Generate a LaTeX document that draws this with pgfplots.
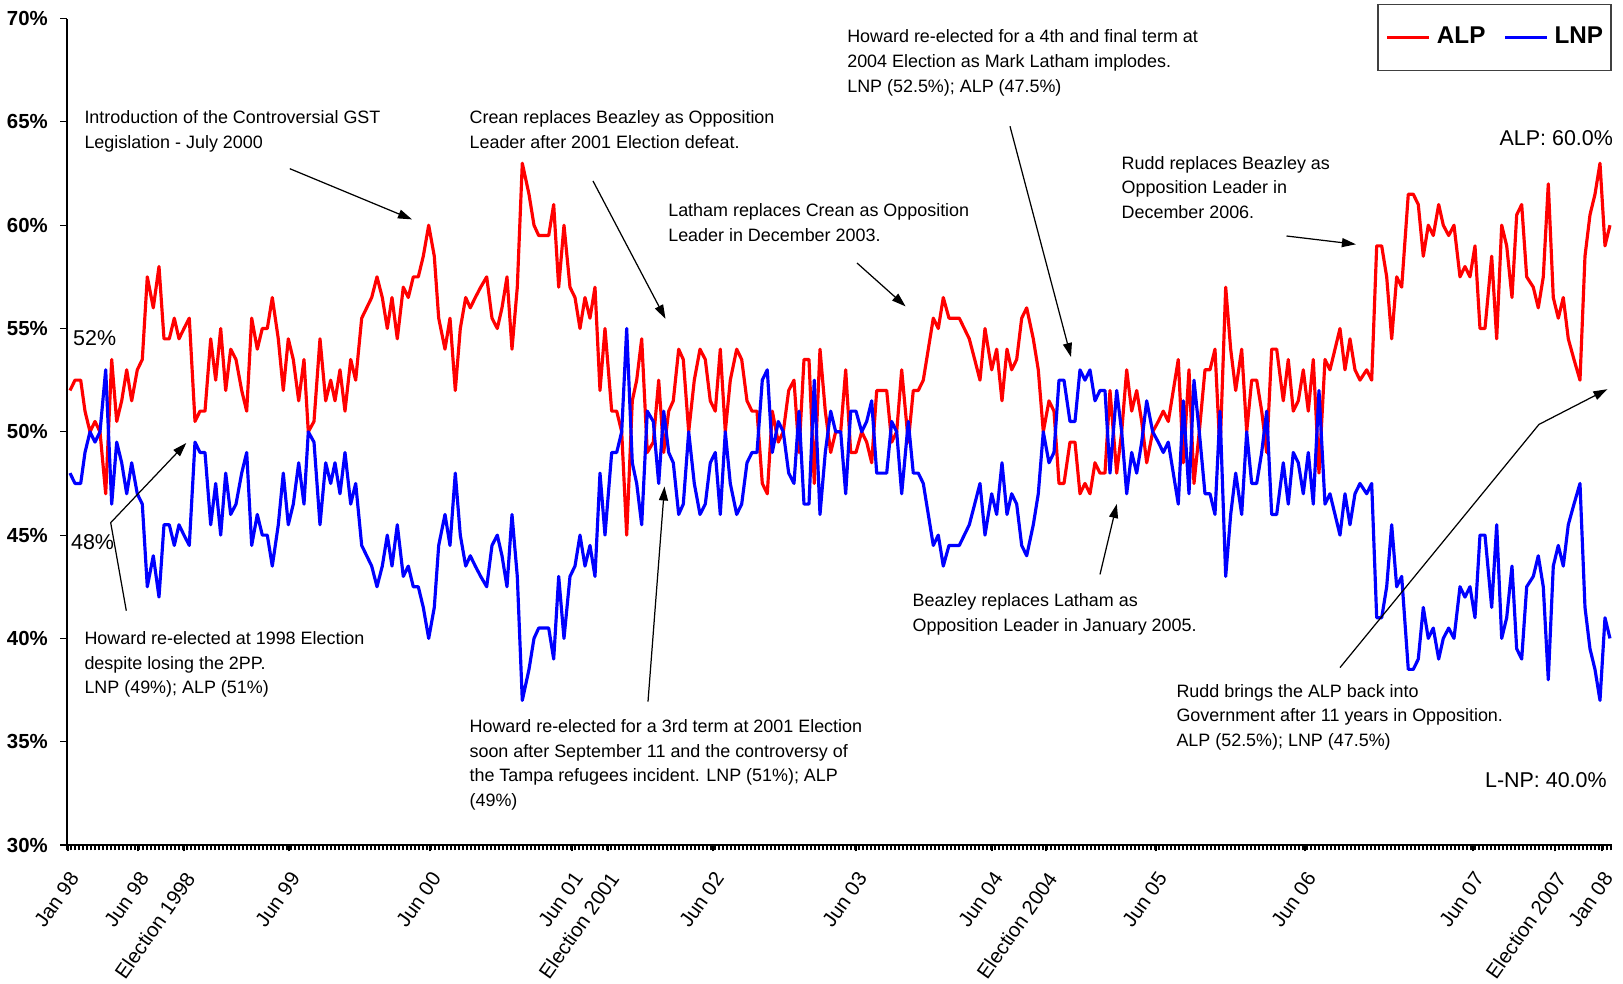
\documentclass[border=0pt]{standalone}
\usepackage{pgfplots}
\pgfplotsset{compat=1.18}
\usepackage{pgfplotstable}
\usepackage{fontspec}
\setmainfont{Liberation Sans}
\usetikzlibrary{arrows.meta}

\pgfplotstableread{
x alp lnp
70 52.0 48.0
75 52.5 47.5
80.7 52.5 47.5
85 51.0 49.0
90 50.0 50.0
95 50.5 49.5
100 50.0 50.0
105.7 47.0 53.0
111.7 53.5 46.5
116.7 50.5 49.5
121.7 51.5 48.5
126.7 53.0 47.0
131.7 51.5 48.5
137.3 53.0 47.0
142.3 53.5 46.5
147.3 57.5 42.5
153.3 56.0 44.0
159 58.0 42.0
164 54.5 45.5
169.3 54.5 45.5
174.3 55.5 44.5
179 54.5 45.5
184 55.0 45.0
189.3 55.5 44.5
195 50.5 49.5
200 51.0 49.0
205 51.0 49.0
210.7 54.5 45.5
215.7 52.5 47.5
220.7 55.0 45.0
225.7 52.0 48.0
230.7 54.0 46.0
236 53.5 46.5
241.7 52.0 48.0
246.7 51.0 49.0
251.7 55.5 44.5
257.3 54.0 46.0
262.3 55.0 45.0
267.3 55.0 45.0
272.3 56.5 43.5
278.3 54.5 45.5
283.3 52.0 48.0
288.3 54.5 45.5
293.3 53.5 46.5
298.7 51.5 48.5
304 53.5 46.5
308.3 50.0 50.0
314 50.5 49.5
320 54.5 45.5
325.7 51.5 48.5
330.7 52.5 47.5
335 51.5 48.5
340 53.0 47.0
345 51.0 49.0
350.7 53.5 46.5
355.7 52.5 47.5
361.7 55.5 44.5
366.7 56.0 44.0
371.7 56.5 43.5
377 57.5 42.5
382.3 56.5 43.5
387.3 55.0 45.0
392 56.5 43.5
397.3 54.5 45.5
403.3 57.0 43.0
408.3 56.5 43.5
413.3 57.5 42.5
418.3 57.5 42.5
423.3 58.5 41.5
428.7 60.0 40.0
434.3 58.5 41.5
438.7 55.5 44.5
445 54.0 46.0
450 55.5 44.5
455.3 52.0 48.0
460.3 55.0 45.0
465.7 56.5 43.5
470.3 56.0 44.0
475.3 56.5 43.5
480.7 57.0 43.0
486.7 57.5 42.5
492 55.5 44.5
497.3 55.0 45.0
502 56.0 44.0
507 57.5 42.5
512 54.0 46.0
517.3 57.0 43.0
522.3 63.0 37.0
529 61.5 38.5
534 60.0 40.0
538.7 59.5 40.5
543.7 59.5 40.5
548.7 59.5 40.5
553.7 61.0 39.0
558.7 57.0 43.0
564 60.0 40.0
570 57.0 43.0
575 56.5 43.5
580 55.0 45.0
585 56.5 43.5
590 55.5 44.5
595 57.0 43.0
600 52.0 48.0
605 55.0 45.0
611.7 51.0 49.0
616.7 51.0 49.0
621.7 50.0 50.0
626.7 45.0 55.0
632.3 51.5 48.5
636.7 52.5 47.5
641.7 54.5 45.5
647.3 49.0 51.0
653.3 49.5 50.5
658.7 52.5 47.5
663.7 49.0 51.0
668.7 51.0 49.0
673.3 51.5 48.5
678.7 54.0 46.0
683.3 53.5 46.5
688.7 50.0 50.0
694.3 52.5 47.5
700 54.0 46.0
705.3 53.5 46.5
710.3 51.5 48.5
715.3 51.0 49.0
720.3 54.0 46.0
725.3 50.0 50.0
730.3 52.5 47.5
736.7 54.0 46.0
741.7 53.5 46.5
747 51.5 48.5
752 51.0 49.0
757 51.0 49.0
762.3 47.5 52.5
767.3 47.0 53.0
772.3 51.0 49.0
778.3 49.5 50.5
783.3 50.0 50.0
788.7 52.0 48.0
794 52.5 47.5
799 49.0 51.0
804 53.5 46.5
809 53.5 46.5
814.3 47.5 52.5
820 54.0 46.0
825.3 51.0 49.0
830.7 49.0 51.0
835.7 50.0 50.0
840.7 50.0 50.0
845.7 53.0 47.0
850.7 49.0 51.0
856 49.0 51.0
861.7 50.0 50.0
866.7 49.5 50.5
871.7 48.5 51.5
876.7 52.0 48.0
881.7 52.0 48.0
886.7 52.0 48.0
891.7 49.5 50.5
896.7 50.0 50.0
901.7 53.0 47.0
908.3 49.5 50.5
913.3 52.0 48.0
918.3 52.0 48.0
923.3 52.5 47.5
928.3 54.0 46.0
933.3 55.5 44.5
938.3 55.0 45.0
943.3 56.5 43.5
949 55.5 44.5
954 55.5 44.5
959.3 55.5 44.5
964.3 55.0 45.0
969.3 54.5 45.5
974.7 53.5 46.5
980 52.5 47.5
985 55.0 45.0
991.7 53.0 47.0
996.7 54.0 46.0
1002 51.5 48.5
1007 54.0 46.0
1011.7 53.0 47.0
1016.7 53.5 46.5
1021.7 55.5 44.5
1026.7 56.0 44.0
1033.3 54.5 45.5
1038.3 53.0 47.0
1043.3 50.0 50.0
1049 51.5 48.5
1054 51.0 49.0
1059 47.5 52.5
1064 47.5 52.5
1070 49.5 50.5
1075 49.5 50.5
1080 47.0 53.0
1085 47.5 52.5
1090 47.0 53.0
1095 48.5 51.5
1100 48.0 52.0
1105 48.0 52.0
1110 52.0 48.0
1116.7 48.0 52.0
1121.7 50.0 50.0
1126.7 53.0 47.0
1131.7 51.0 49.0
1136.7 52.0 48.0
1141.7 50.5 49.5
1146.7 48.5 51.5
1152.7 50.0 50.0
1158.3 50.5 49.5
1163.3 51.0 49.0
1168.3 50.5 49.5
1173.3 52.0 48.0
1178.3 53.5 46.5
1183.3 48.5 51.5
1189 53.0 47.0
1194 47.5 52.5
1199.3 50.0 50.0
1205 53.0 47.0
1210 53.0 47.0
1215 54.0 46.0
1220 49.0 51.0
1225.7 57.0 43.0
1230.7 54.0 46.0
1235.7 52.0 48.0
1241.7 54.0 46.0
1246.7 50.0 50.0
1251.7 52.5 47.5
1256.7 52.5 47.5
1261.7 51.0 49.0
1266.7 49.0 51.0
1271.7 54.0 46.0
1276.7 54.0 46.0
1283.3 51.5 48.5
1288.3 53.5 46.5
1293.3 51.0 49.0
1298.3 51.5 48.5
1303.3 53.0 47.0
1308.3 51.0 49.0
1313.3 53.5 46.5
1319 48.0 52.0
1325 53.5 46.5
1330 53.0 47.0
1335 54.0 46.0
1340 55.0 45.0
1345 53.0 47.0
1350 54.5 45.5
1355 53.0 47.0
1360 52.5 47.5
1366.7 53.0 47.0
1371.7 52.5 47.5
1376.7 59.0 41.0
1381.7 59.0 41.0
1386.7 57.5 42.5
1391.7 54.5 45.5
1396.7 57.5 42.5
1401.7 57.0 43.0
1408.3 61.5 38.5
1413.3 61.5 38.5
1418.3 61.0 39.0
1423.3 58.5 41.5
1428.3 60.0 40.0
1433.3 59.5 40.5
1438.7 61.0 39.0
1443.3 60.0 40.0
1448.7 59.5 40.5
1454 60.0 40.0
1460 57.5 42.5
1465 58.0 42.0
1470 57.5 42.5
1475 59.0 41.0
1480 55.0 45.0
1485 55.0 45.0
1491.7 58.5 41.5
1496.7 54.5 45.5
1501.7 60.0 40.0
1506.7 59.0 41.0
1512 56.5 43.5
1516.7 60.5 39.5
1521.7 61.0 39.0
1526.7 57.5 42.5
1533.3 57.0 43.0
1538.3 56.0 44.0
1543.3 57.5 42.5
1548.3 62.0 38.0
1553.3 56.5 43.5
1558.3 55.5 44.5
1563.3 56.5 43.5
1568.3 54.5 45.5
1574 53.5 46.5
1580 52.5 47.5
1585 58.5 41.5
1590 60.5 39.5
1595 61.5 38.5
1600 63.0 37.0
1605 59.0 41.0
1610 60.0 40.0
}\polls

\begin{document}
\begin{tikzpicture}
\begin{axis}[
  scale only axis,
  width=154.5mm, height=82.64mm,
  xmin=67, xmax=1612, ymin=30, ymax=70,
  axis lines*=left,
  axis line style={black, line width=0.4pt},
  tick align=outside,
  major tick length=0.65mm,
  minor tick length=0.55mm,
  tick style={black, line width=0.3pt},
  ytick={30,35,...,70},
  yticklabels={30\%,35\%,40\%,45\%,50\%,55\%,60\%,65\%,70\%},
  yticklabel style={font=\fontsize{5.8}{7}\selectfont\bfseries, anchor=east, inner sep=0pt, xshift=-1.2mm},
  xtick={68,138,184,289,430,572,608,713,856,992,1046,1156,1305,1473,1555,1602},
  xticklabels={Jan 98,Jun 98,Election 1998,Jun 99,Jun 00,Jun 01,Election 2001,Jun 02,Jun 03,Jun 04,Election 2004,Jun 05,Jun 06,Jun 07,Election 2007,Jan 08},
  xticklabel style={font=\fontsize{5.8}{7}\selectfont, yshift=-1.8mm, rotate=55, anchor=north east, inner sep=0pt},
  minor xtick={67,71,...,1611},
  legend columns=2,
  legend style={at={(1.0,1.018)}, anchor=north east, draw=black!75, line width=0.5pt,
    font=\fontsize{6.9}{8}\selectfont\bfseries, inner xsep=0.8mm, inner ysep=2.2mm,
    nodes={inner sep=0pt},
    /tikz/every odd column/.append style={column sep=0.6mm},
    /tikz/every even column/.append style={column sep=1.8mm}},
  legend image code/.code={\draw[#1] (0mm,0mm) -- (4.2mm,0mm);},
  clip=false,
]
\addplot[color=red, line width=0.9pt, line join=round] table[x=x, y=alp] {\polls};
\addlegendentry{ALP}
\addplot[color=blue, line width=0.9pt, line join=round] table[x=x, y=lnp] {\polls};
\addlegendentry{LNP}
\end{axis}
\begin{scope}[x=0.1mm, y=-0.1mm, shift={(-67,-845)}]
\tikzset{ann/.style={font=\fontsize{5.1}{7.05}\selectfont, align=left, anchor=north west, inner sep=0pt},
  arr/.style={line width=0.35pt, -{Triangle[length=1.4mm, width=0.9mm]}}}
\node[ann] at (83.8,110) {Introduction of the Controversial GST\\Legislation - July 2000};
\node[ann] at (83.8,630.6) {Howard re-elected at 1998 Election\\despite losing the 2PP.\\LNP (49\%); ALP (51\%)};
\node[ann] at (468.9,110) {Crean replaces Beazley as Opposition\\Leader after 2001 Election defeat.};
\node[ann] at (667.6,203) {Latham replaces Crean as Opposition\\Leader in December 2003.};
\node[ann] at (846.6,29.2) {Howard re-elected for a 4th and final term at\\2004 Election as Mark Latham implodes.\\LNP (52.5\%); ALP (47.5\%)};
\node[ann] at (1121,155.5) {Rudd replaces Beazley as\\Opposition Leader in\\December 2006.};
\node[ann] at (468.9,718.6) {Howard re-elected for a 3rd term at 2001 Election\\soon after September 11 and the controversy of\\the Tampa refugees incident. LNP (51\%); ALP\\(49\%)};
\node[ann] at (911.9,593.3) {Beazley replaces Latham as\\Opposition Leader in January 2005.};
\node[ann] at (1175.8,683.4) {Rudd brings the ALP back into\\Government after 11 years in Opposition.\\ALP (52.5\%); LNP (47.5\%)};
\node[font=\fontsize{6.1}{7}\selectfont, anchor=east, inner sep=0pt] at (1613.6,137.7) {ALP: 60.0\%};
\node[font=\fontsize{6.1}{7}\selectfont, anchor=east, inner sep=0pt] at (1607.4,780.4) {L-NP: 40.0\%};
\node[font=\fontsize{6.1}{7}\selectfont, anchor=west, inner sep=0pt] at (72.5,338.5) {52\%};
\node[font=\fontsize{6.1}{7}\selectfont, anchor=west, inner sep=0pt] at (70.4,542.4) {48\%};
\draw[arr] (289.8,168.7) -- (412,219.4);
\draw[arr] (126.3,610.7) -- (110.7,522.7) -- (186.3,443);
\draw[arr] (593,181) -- (665.5,318.8);
\draw[arr] (857,263) -- (905.6,306.4);
\draw[arr] (1010,126.3) -- (1071,357);
\draw[arr] (1286.5,236) -- (1355.9,244.3);
\draw[arr] (648,701.7) -- (664.5,486.5);
\draw[arr] (1100,574.4) -- (1116.8,504);
\draw[arr] (1340,667.6) -- (1539,424.4) -- (1607.4,389.2);
\pgfresetboundingbox
\path (0,0) rectangle (1623,983);
\end{scope}
\end{tikzpicture}
\end{document}
